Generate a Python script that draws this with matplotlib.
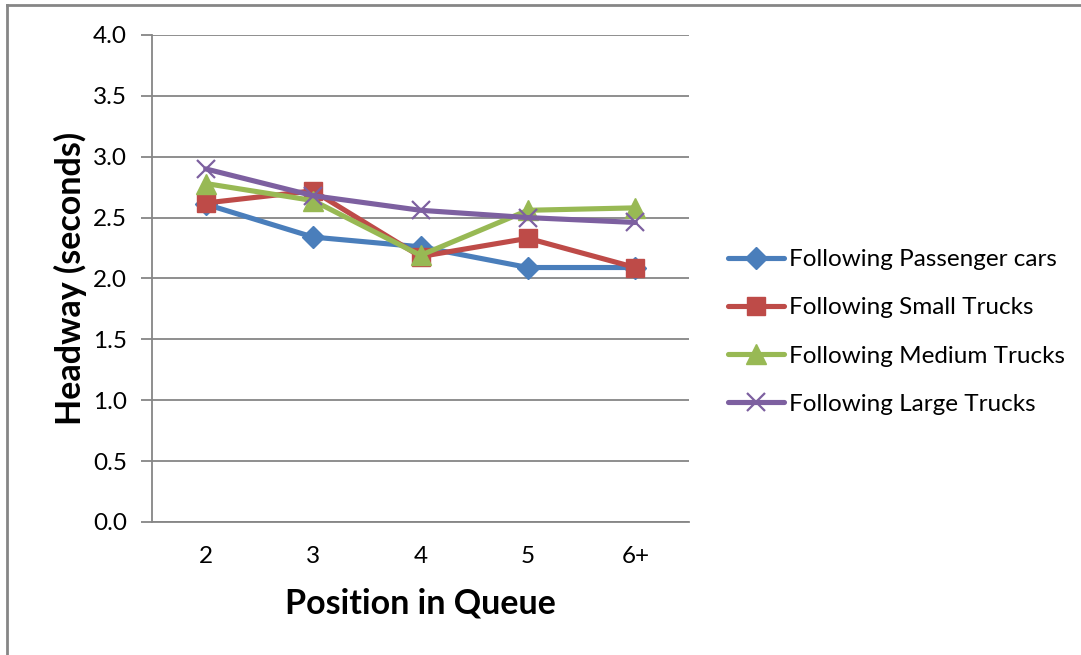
import matplotlib.pyplot as plt
from matplotlib.lines import Line2D

# Data
positions = ['2', '3', '4', '5', '6+']
passenger = [2.61, 2.34, 2.26, 2.09, 2.09]
small = [2.62, 2.72, 2.18, 2.33, 2.09]
medium = [2.78, 2.64, 2.19, 2.56, 2.58]
large = [2.90, 2.68, 2.56, 2.50, 2.46]

series = [
    ('Following Passenger cars', passenger, '#4a7ebb', 'D', 11),
    ('Following Small Trucks', small, '#be4b48', 's', 13),
    ('Following Medium Trucks', medium, '#98b954', '^', 14),
    ('Following Large Trucks', large, '#7d60a0', 'x', 13),
]

plt.rcParams['font.family'] = ['Lato', 'DejaVu Sans']

fig = plt.figure(figsize=(10.81, 6.55), dpi=100)
ax = fig.add_axes([0.1406, 0.2031, 0.4968, 0.7435])

x = list(range(len(positions)))
for label, vals, color, marker, ms in series:
    if marker == 'x':
        ax.plot(x, vals, color=color, lw=3.7, marker=marker, ms=ms,
                mew=1.6, label=label, solid_capstyle='round')
    else:
        ax.plot(x, vals, color=color, lw=3.7, marker=marker, ms=ms,
                mec=color, label=label, solid_capstyle='round')

ax.set_xlim(-0.5, len(positions) - 0.5)
ax.set_ylim(0, 4.0)
ax.set_yticks([i * 0.5 for i in range(9)])
ax.set_yticklabels([f'{i * 0.5:.1f}' for i in range(9)], fontsize=17.5)
ax.set_xticks(x)
ax.set_xticklabels(positions, fontsize=17.5)
ax.tick_params(axis='x', length=0, pad=17)
ax.tick_params(axis='y', length=8, color='#868686', width=1.3, pad=10)
ax.yaxis.grid(True, color='#868686', lw=1.3)
ax.set_axisbelow(True)
for s in ['top', 'right']:
    ax.spines[s].set_visible(False)
for s in ['left', 'bottom']:
    ax.spines[s].set_color('#868686')
    ax.spines[s].set_linewidth(1.3)

ax.set_xlabel('Position in Queue', fontsize=24.5, fontweight='bold', labelpad=15)
ax.set_ylabel('Headway (seconds)', fontsize=24.5, fontweight='bold', labelpad=4)

ax.legend(loc='center left', bbox_to_anchor=(1.073, 0.39), frameon=False,
          fontsize=17.5, handlelength=2.3, handletextpad=0.2, labelspacing=1.12,
          borderaxespad=0, borderpad=0)

# outer chart border (left and top only visible)
fig.add_artist(Line2D([0.0065, 0.0065], [0, 0.992], transform=fig.transFigure,
                      color='#868686', lw=2))
fig.add_artist(Line2D([0.0065, 1.0], [0.992, 0.992], transform=fig.transFigure,
                      color='#868686', lw=2))

fig.savefig('out.png', dpi=100)
